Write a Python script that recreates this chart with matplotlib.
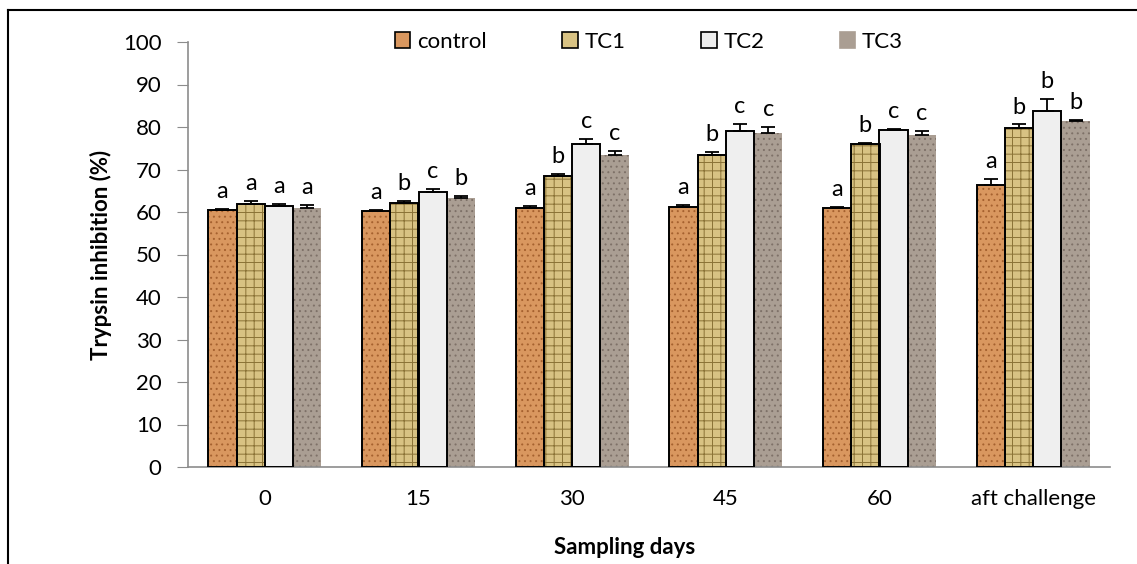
import numpy as np
import matplotlib
matplotlib.use('Agg')
import matplotlib.pyplot as plt
from matplotlib.patches import Patch
from matplotlib.lines import Line2D

plt.rcParams['font.family'] = ['Lato', 'DejaVu Sans']
plt.rcParams['hatch.linewidth'] = 0.7

# データ
days = ['0', '15', '30', '45', '60', 'aft challenge']
series = ['control', 'TC1', 'TC2', 'TC3']
control = [60.5, 60.3, 61.0, 61.2, 61.0, 66.3]
tc1 = [62.0, 62.2, 68.5, 73.3, 76.0, 79.7]
tc2 = [61.5, 64.8, 76.0, 79.0, 79.2, 83.7]
tc3 = [61.0, 63.2, 73.5, 78.7, 78.2, 81.4]
err_control = [0.3, 0.2, 0.5, 0.5, 0.2, 1.5]
err_tc1 = [0.7, 0.3, 0.5, 0.8, 0.3, 0.9]
err_tc2 = [0.3, 0.6, 1.1, 1.7, 0.3, 2.8]
err_tc3 = [0.6, 0.6, 0.8, 1.2, 0.8, 0.3]
let_control = ['a', 'a', 'a', 'a', 'a', 'a']
let_tc1 = ['a', 'b', 'b', 'b', 'b', 'b']
let_tc2 = ['a', 'c', 'c', 'c', 'c', 'b']
let_tc3 = ['a', 'b', 'c', 'c', 'c', 'b']

vals = [control, tc1, tc2, tc3]
errs = [err_control, err_tc1, err_tc2, err_tc3]
lets = [let_control, let_tc1, let_tc2, let_tc3]

# 見た目（テクスチャはハッチで近似）
faces = ['#D9975F', '#D8C283', '#EFEFEF', '#AA9E93']
hcols = ['#A5612F', '#8A7236', '#E2E2E2', '#7E7168']
hatches = ['...', '++', None, '...']
edged = [True, True, True, False]

fig = plt.figure(figsize=(11.37, 5.64), dpi=100)
ax = fig.add_axes([188/1137, 1-467/564, (1110-188)/1137, (467-42)/564])

x = np.arange(len(days))
w = 0.184
for i in range(4):
    pos = x + (i - 1.5) * w
    ax.bar(pos, vals[i], w, color=faces[i], edgecolor=hcols[i],
           hatch=hatches[i], linewidth=0, zorder=2)
    if edged[i]:
        ax.bar(pos, vals[i], w, fill=False, edgecolor='black',
               linewidth=1.4, zorder=3)
    ax.errorbar(pos, vals[i], yerr=[np.zeros(len(days)), errs[i]], fmt='none',
                ecolor='black', elinewidth=1.3, capsize=5, capthick=1.3, zorder=4)
    for j in range(len(days)):
        ax.annotate(lets[i][j], (pos[j], vals[i][j] + errs[i][j]),
                    xytext=(0, 5), textcoords='offset points',
                    ha='center', va='bottom', fontsize=17)

ax.set_xlim(-0.5, 5.5)
ax.set_ylim(0, 100)
ax.set_yticks(range(0, 101, 10))
ax.set_xticks(x)
ax.set_xticklabels(days)
for s in ['top', 'right']:
    ax.spines[s].set_visible(False)
for s in ['left', 'bottom']:
    ax.spines[s].set_color('#8C8C8C')
    ax.spines[s].set_linewidth(1.2)
ax.tick_params(axis='y', direction='out', length=8, color='#8C8C8C',
               labelsize=16, pad=11)
ax.tick_params(axis='x', length=0, labelsize=16, pad=16)

ax.set_ylabel('Trypsin inhibition (%)', fontsize=16, fontweight='bold', labelpad=8)
fig.text(625/1137, 1-547/564, 'Sampling days', fontsize=16, fontweight='bold',
         ha='center', va='center')

handles = []
for i in range(4):
    handles.append(Patch(facecolor=faces[i],
                         edgecolor='black' if edged[i] else faces[i],
                         linewidth=1.2))
ax.legend(handles, series, loc='center', bbox_to_anchor=(0.5, 1.0), ncol=4,
          frameon=False, fontsize=16, handlelength=0.7, handleheight=0.7,
          handletextpad=0.3, columnspacing=3.4)

# 外枠
fig.add_artist(Line2D([8/1137, 8/1137], [0, 1-10/564], transform=fig.transFigure,
                      color='black', lw=1.5))
fig.add_artist(Line2D([8/1137, 1], [1-10/564, 1-10/564], transform=fig.transFigure,
                      color='black', lw=1.5))

fig.savefig('out.png', dpi=100)
